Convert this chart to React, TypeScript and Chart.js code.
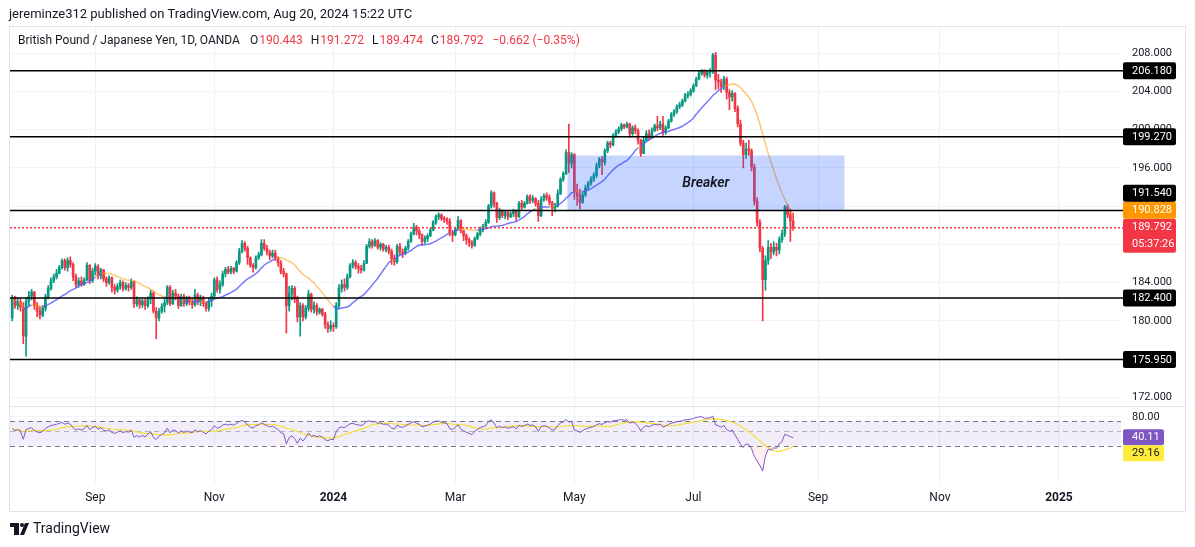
import React, { useEffect, useRef } from "react";
import { Chart, registerables } from "chart.js";

Chart.register(...registerables);

const FONT = "Roboto, 'Noto Sans', 'DejaVu Sans', sans-serif";

// GBP/JPY daily bars, Jul 21 2023 -> Aug 20 2024 (index 0..282)
const firstOpen = 180.3;
const lastOpen = 190.443;
const closes = [
  182.4, 181.6, 182.0, 181.4, 178.4, 182.0, 182.6, 183.0, 181.6, 181.0,
  180.6, 181.3, 182.5, 183.4, 184.2, 184.6, 185.0, 185.6, 186.3, 185.6,
  186.3, 185.9, 184.6, 183.8, 184.2, 183.8, 184.3, 185.8, 184.2, 185.2,
  185.7, 184.7, 185.3, 184.4, 184.0, 184.5, 183.5, 183.2, 183.6, 184.0,
  183.4, 183.7, 183.5, 184.1, 181.8, 182.2, 181.7, 182.1, 181.6, 182.3,
  182.9, 181.0, 180.3, 181.0, 181.5, 181.9, 183.5, 181.8, 182.9, 182.6,
  181.6, 182.5, 181.8, 182.4, 182.0, 181.7, 182.7, 182.0, 182.4, 181.8,
  181.3, 182.1, 182.6, 184.3, 183.3, 183.8, 184.9, 185.4, 185.1, 185.5,
  185.2, 186.1, 187.3, 188.1, 187.6, 186.6, 185.8, 185.6, 186.6, 186.9,
  188.1, 187.6, 187.2, 186.8, 187.1, 186.6, 186.1, 185.2, 184.9, 181.6,
  182.9, 183.4, 182.3, 180.4, 181.6, 180.4, 181.3, 182.8, 181.2, 181.6,
  180.9, 181.2, 180.7, 179.6, 179.2, 179.5, 179.4, 181.6, 183.4, 183.8,
  183.5, 184.6, 185.8, 186.1, 185.7, 185.5, 185.3, 186.0, 187.8, 188.3,
  187.9, 188.4, 187.7, 188.0, 187.5, 187.7, 187.3, 186.5, 186.2, 187.8,
  187.2, 187.1, 187.6, 188.3, 189.1, 189.8, 189.4, 189.0, 188.3, 188.6,
  188.9, 189.5, 190.3, 190.9, 191.1, 190.7, 190.6, 190.4, 189.2, 189.0,
  189.6, 190.5, 189.4, 188.9, 188.5, 188.2, 187.9, 188.6, 189.1, 189.6,
  189.9, 190.3, 192.0, 193.4, 192.3, 190.8, 191.5, 191.0, 191.4, 190.9,
  191.2, 191.5, 190.9, 192.3, 191.9, 192.3, 193.0, 192.6, 192.8, 192.3,
  191.0, 192.7, 193.1, 192.9, 192.4, 191.8, 192.0, 193.3, 194.8, 195.4,
  197.6, 196.5, 197.4, 193.5, 193.1, 192.4, 193.2, 193.9, 194.4, 194.8,
  195.2, 196.2, 196.9, 196.6, 197.8, 198.6, 198.4, 199.4, 199.8, 200.1,
  200.5, 200.3, 200.6, 199.6, 200.2, 199.9, 198.9, 197.5, 198.9, 199.6,
  199.2, 199.9, 200.4, 200.2, 200.6, 199.7, 200.2, 200.9, 201.6, 201.9,
  202.4, 202.6, 203.0, 203.6, 203.7, 204.1, 204.6, 205.3, 205.9, 206.1,
  205.7, 206.0, 206.1, 207.8, 205.2, 205.0, 204.5, 205.3, 203.9, 203.4,
  203.8, 202.2, 200.6, 198.6, 197.4, 198.0, 197.8, 196.1, 192.5, 190.3,
  187.6, 184.3, 186.3, 187.7, 187.2, 187.7, 187.4, 188.5, 189.1, 191.9,
  191.1, 190.454, 189.792,
];
const highs = [
  182.7, 182.6, 182.4, 182.3, 181.9, 182.4, 183.1, 183.3, 183.1, 181.9,
  181.5, 181.6, 182.8, 183.7, 184.5, 184.9, 185.4, 185.8, 186.5, 186.5,
  186.6, 186.7, 186.1, 184.9, 184.5, 184.6, 184.5, 186.1, 185.9, 185.5,
  186.0, 185.9, 185.5, 185.4, 184.6, 184.7, 184.6, 183.8, 183.9, 184.3,
  184.2, 184.0, 183.9, 184.4, 184.2, 182.5, 182.3, 182.3, 182.3, 182.5,
  183.2, 183.1, 181.4, 181.3, 181.8, 182.3, 183.7, 183.7, 183.2, 183.3,
  182.8, 182.8, 182.8, 182.6, 182.6, 182.3, 183.3, 182.9, 182.7, 182.6,
  182.0, 182.4, 182.9, 184.5, 184.6, 184.2, 185.2, 185.6, 185.7, 185.7,
  185.6, 186.3, 187.6, 188.4, 188.3, 187.8, 186.7, 186.0, 186.8, 187.2,
  188.5, 188.5, 187.9, 187.4, 187.4, 187.4, 186.7, 186.3, 185.5, 185.0,
  183.6, 183.7, 183.6, 182.6, 181.9, 181.8, 181.6, 183.2, 182.9, 182.0,
  181.8, 181.4, 181.3, 180.9, 179.9, 180.0, 179.8, 181.9, 183.8, 184.3,
  184.4, 184.9, 186.0, 186.4, 186.3, 186.0, 185.8, 186.3, 188.0, 188.6,
  188.5, 188.6, 188.5, 188.2, 188.1, 187.9, 187.9, 187.5, 186.9, 188.0,
  188.1, 187.5, 187.8, 188.5, 189.3, 190.2, 190.0, 189.6, 189.1, 188.9,
  189.1, 189.7, 190.5, 191.1, 191.3, 191.2, 190.9, 190.8, 190.7, 189.5,
  189.8, 190.9, 190.6, 189.5, 189.1, 188.7, 188.4, 188.8, 189.3, 189.8,
  190.1, 190.6, 192.2, 193.6, 193.5, 192.4, 191.8, 191.6, 191.6, 191.5,
  191.4, 191.7, 191.6, 192.5, 192.6, 192.5, 193.2, 193.2, 193.1, 192.9,
  192.6, 193.0, 193.3, 193.4, 193.2, 192.5, 192.3, 193.7, 195.0, 195.6,
  197.9, 200.6, 197.6, 197.5, 194.3, 193.8, 193.5, 194.2, 194.6, 195.1,
  195.5, 196.5, 197.1, 197.2, 198.0, 198.8, 198.8, 199.6, 200.0, 200.3,
  200.7, 200.6, 200.8, 200.7, 200.4, 200.5, 200.1, 199.0, 199.2, 199.9,
  200.0, 200.2, 200.6, 201.4, 200.9, 201.4, 200.4, 201.1, 201.8, 202.1,
  202.6, 202.9, 203.2, 203.8, 204.0, 204.3, 204.8, 205.5, 206.1, 206.3,
  206.3, 206.2, 206.4, 208.0, 208.1, 205.8, 205.3, 205.6, 205.5, 204.2,
  204.1, 203.9, 202.5, 201.0, 198.9, 198.6, 198.9, 198.0, 196.4, 192.9,
  190.6, 187.8, 186.8, 188.4, 188.1, 188.3, 188.1, 188.8, 189.5, 192.1,
  192.2, 191.7, 191.272,
];
const lows = [
  180.0, 181.3, 181.2, 181.0, 177.6, 176.3, 181.6, 182.2, 181.2, 180.4,
  180.2, 180.4, 181.0, 182.3, 183.2, 184.0, 184.4, 184.9, 185.4, 185.3,
  185.2, 185.6, 184.2, 183.5, 183.5, 183.6, 183.7, 184.2, 183.9, 184.0,
  184.8, 184.4, 184.4, 184.1, 183.6, 183.8, 183.0, 182.8, 183.0, 183.3,
  183.1, 183.2, 183.1, 183.3, 181.4, 181.5, 181.3, 181.4, 181.2, 181.4,
  181.8, 180.8, 178.1, 180.0, 180.8, 180.9, 181.7, 181.6, 181.7, 182.2,
  181.3, 181.5, 181.5, 181.6, 181.7, 181.3, 181.5, 181.7, 181.6, 181.5,
  181.0, 181.0, 181.5, 182.4, 183.0, 182.9, 183.6, 184.6, 184.9, 184.9,
  184.9, 185.1, 185.9, 187.1, 187.3, 185.9, 185.6, 185.1, 185.4, 186.4,
  186.8, 187.4, 186.9, 186.4, 186.6, 186.3, 185.7, 184.9, 184.6, 178.7,
  181.0, 182.2, 181.9, 179.9, 178.4, 180.0, 180.2, 181.0, 180.9, 180.8,
  180.6, 180.7, 180.5, 179.2, 178.8, 178.9, 178.9, 179.2, 181.3, 183.0,
  183.1, 183.3, 184.5, 185.5, 185.4, 185.0, 185.0, 185.2, 186.0, 187.6,
  187.6, 187.8, 187.5, 187.4, 187.3, 187.2, 187.0, 185.9, 185.8, 186.0,
  186.9, 186.6, 186.9, 187.4, 188.2, 189.0, 189.0, 188.6, 187.9, 188.1,
  188.3, 188.8, 189.4, 190.1, 190.6, 190.5, 190.3, 190.1, 188.9, 188.3,
  188.9, 189.5, 189.2, 188.4, 188.0, 187.8, 187.6, 187.8, 188.5, 188.9,
  189.3, 189.7, 190.2, 191.8, 191.9, 190.3, 190.6, 190.8, 190.7, 190.6,
  190.8, 190.9, 190.5, 190.8, 191.6, 191.8, 192.2, 192.3, 192.4, 192.0,
  190.4, 190.9, 192.5, 192.6, 192.1, 191.0, 191.4, 191.9, 193.2, 194.6,
  195.3, 195.5, 196.0, 192.7, 192.1, 191.7, 192.3, 193.0, 193.7, 194.2,
  194.6, 195.0, 196.0, 195.3, 196.3, 197.6, 198.1, 198.3, 199.2, 199.6,
  199.9, 200.1, 200.2, 199.2, 199.4, 199.6, 198.5, 197.2, 197.5, 198.8,
  198.9, 199.1, 199.8, 199.9, 200.0, 199.4, 199.5, 200.1, 200.8, 201.4,
  201.7, 202.2, 202.4, 202.9, 203.3, 203.5, 203.9, 204.5, 205.2, 205.7,
  205.5, 205.4, 205.5, 205.9, 204.2, 204.3, 203.9, 204.2, 203.2, 202.1,
  203.0, 201.9, 200.3, 198.3, 196.0, 197.0, 197.3, 195.7, 192.1, 189.9,
  187.2, 180.0, 183.2, 185.9, 186.5, 186.9, 186.8, 187.0, 188.2, 188.8,
  190.8, 188.3, 189.474,
];

// drawings & labels
const levels = [206.18, 199.27, 191.54, 182.4, 175.95];
const breakerPrices = [191.54, 197.3];
const breakerBars = [200.5, 300.5];
const maPeriod = 20;
const rsiPeriod = 14;
const rsiMaPeriod = 14;
const rsiSeed = [0.42, 0.36]; // average gain / loss carried in from before the visible range
const rsiBands = [70, 50, 30];
const rsiTicks = [80];
const maLastLabel = 190.828;
const rsiLastLabels = [40.11, 29.16];
const countdown = "05:37:26";
const xTickBars = [30, 73, 116, 160, 203, 246, 291, 335, 378];
const xTickLabels = ["Sep", "Nov", "2024", "Mar", "May", "Jul", "Sep", "Nov", "2025"];
const xRange = [-0.8, 400.4];
const priceRange = [171.12, 210.75];
const rsiRange = [8.47, 116.4];
const headerText = "jereminze312 published on TradingView.com, Aug 20, 2024 15:22 UTC";
const titleText = "British Pound / Japanese Yen, 1D, OANDA";

const UP = "#089981";
const DOWN = "#F23645";
const MA_UP = "rgba(88, 88, 250, 0.8)";
const MA_DOWN = "rgba(255, 152, 0, 0.55)";
const RSI_COLOR = "#7E57C2";
const RSI_MA_COLOR = "#F5DF3A";
const TEXT = "#131722";

const N = closes.length;
const opens = closes.map((c, i) => (i === 0 ? firstOpen : i === N - 1 ? lastOpen : closes[i - 1]));

function sma(arr: number[], p: number) {
  return arr.map((_, i) => {
    const s = Math.max(0, i - p + 1);
    let sum = 0;
    for (let k = s; k <= i; k++) sum += arr[k];
    return sum / (i - s + 1);
  });
}
const ma = sma(closes, maPeriod);

const rsi: number[] = [];
{
  let ag = rsiSeed[0];
  let al = rsiSeed[1];
  rsi.push(100 - 100 / (1 + ag / al));
  for (let i = 1; i < N; i++) {
    const d = closes[i] - closes[i - 1];
    const g = Math.max(d, 0);
    const l = Math.max(-d, 0);
    ag = (ag * (rsiPeriod - 1) + g) / rsiPeriod;
    al = (al * (rsiPeriod - 1) + l) / rsiPeriod;
    const v = al === 0 ? 99 : 100 - 100 / (1 + ag / al);
    rsi.push(Math.max(2, v));
  }
}
const rsiMa = sma(rsi, rsiMaPeriod);

function fmtSigned(v: number, d: number) {
  return (v < 0 ? "\u2212" : "+") + Math.abs(v).toFixed(d);
}

const overlay = {
  id: "overlay",
  beforeDatasetsDraw(chart: any) {
    const { ctx, chartArea: ca } = chart;
    const yR = chart.scales.yR;
    const [b70, b50, b30] = rsiBands.map((v) => yR.getPixelForValue(v));
    ctx.save();
    ctx.fillStyle = "rgba(126, 87, 194, 0.1)";
    ctx.fillRect(ca.left, b70, ca.right - ca.left, b30 - b70);
    ctx.lineWidth = 1;
    ctx.setLineDash([5, 4]);
    const hl = (y: number, c: string) => {
      ctx.strokeStyle = c;
      ctx.beginPath();
      ctx.moveTo(ca.left, Math.round(y) + 0.5);
      ctx.lineTo(ca.right, Math.round(y) + 0.5);
      ctx.stroke();
    };
    hl(b70, "#787B86");
    hl(b30, "#787B86");
    hl(b50, "rgba(120,123,134,0.5)");
    ctx.restore();
  },
  afterDatasetsDraw(chart: any) {
    const { ctx, chartArea: ca } = chart;
    const xs = chart.scales.x;
    const ys = chart.scales.y;
    ctx.save();
    // breaker rectangle
    const bx0 = xs.getPixelForValue(breakerBars[0]);
    const bx1 = xs.getPixelForValue(breakerBars[1]);
    const by0 = ys.getPixelForValue(breakerPrices[1]);
    const by1 = ys.getPixelForValue(breakerPrices[0]);
    ctx.fillStyle = "rgba(41, 98, 255, 0.27)";
    ctx.fillRect(bx0, by0, bx1 - bx0, by1 - by0);
    ctx.font = `italic 600 14px ${FONT}`;
    ctx.fillStyle = TEXT;
    ctx.textAlign = "center";
    ctx.textBaseline = "middle";
    ctx.fillText("Breaker", (bx0 + bx1) / 2, (by0 + by1) / 2);
    // level lines
    ctx.strokeStyle = "#000";
    ctx.lineWidth = 1.5;
    for (const lv of levels) {
      const y = ys.getPixelForValue(lv);
      ctx.beginPath();
      ctx.moveTo(ca.left, y);
      ctx.lineTo(ca.right + 2, y);
      ctx.stroke();
    }
    // last price dotted line (red dots)
    const yl = Math.round(ys.getPixelForValue(closes[N - 1]));
    ctx.fillStyle = DOWN;
    for (let px = Math.round(ca.left); px < ca.right + 2; px += 4) {
      ctx.fillRect(px, yl, 2, 1.5);
    }
    ctx.restore();
  },
  afterDraw(chart: any) {
    const { ctx, chartArea: ca } = chart;
    const ys = chart.scales.y;
    const yR = chart.scales.yR;
    ctx.save();
    // frame and pane separator
    ctx.strokeStyle = "#E0E3EB";
    ctx.lineWidth = 1;
    ctx.strokeRect(9.5, 26.5, 1176, 485);
    const sepY = Math.round(yR.top) + 0.5;
    ctx.beginPath();
    ctx.moveTo(10, sepY);
    ctx.lineTo(1185, sepY);
    ctx.stroke();

    // header
    ctx.textBaseline = "middle";
    ctx.textAlign = "left";
    ctx.fillStyle = TEXT;
    ctx.font = `13px ${FONT}`;
    ctx.fillText(headerText, 9, 15);

    // legend row
    ctx.font = `12px ${FONT}`;
    let x = 18;
    const ly = 41;
    ctx.fillStyle = TEXT;
    ctx.fillText(titleText, x, ly);
    x += ctx.measureText(titleText).width + 10;
    const items: [string, number][] = [
      ["O", opens[N - 1]],
      ["H", highs[N - 1]],
      ["L", lows[N - 1]],
      ["C", closes[N - 1]],
    ];
    for (const [k, v] of items) {
      ctx.fillStyle = TEXT;
      ctx.fillText(k, x, ly);
      x += ctx.measureText(k).width + 1;
      const t = v.toFixed(3);
      ctx.fillStyle = DOWN;
      ctx.fillText(t, x, ly);
      x += ctx.measureText(t).width + 8;
    }
    const chg = closes[N - 1] - closes[N - 2];
    const pct = (chg / closes[N - 2]) * 100;
    ctx.fillStyle = DOWN;
    ctx.fillText(`${fmtSigned(chg, 3)} (${fmtSigned(pct, 2)}%)`, x + 1, ly);

    // right-axis labels with collision handling
    const boxL = ca.right + 2;
    const boxW = 53;
    const textX = ca.right + 11;
    type Lab = { top: number; h: number; bg: string; fg: string; lines: string[] };
    const labs: Lab[] = [];
    const h = 17;
    for (const lv of levels) {
      const y = ys.getPixelForValue(lv);
      labs.push({ top: y - h / 2, h, bg: "#000", fg: "#fff", lines: [lv.toFixed(3)] });
    }
    {
      const y = ys.getPixelForValue(maLastLabel);
      labs.push({ top: y - h / 2, h, bg: "#FF9800", fg: "#fff", lines: [maLastLabel.toFixed(3)] });
    }
    {
      const y = ys.getPixelForValue(closes[N - 1]);
      labs.push({ top: y - h / 2, h: 34, bg: DOWN, fg: "#fff", lines: [closes[N - 1].toFixed(3), countdown] });
    }
    labs.sort((a, b) => b.top - a.top);
    let limit = Infinity;
    for (const l of labs) {
      if (l.top + l.h > limit) l.top = limit - l.h;
      limit = l.top;
    }
    ctx.font = `11px ${FONT}`;
    for (const l of labs) {
      ctx.fillStyle = l.bg;
      ctx.beginPath();
      ctx.roundRect(boxL, l.top, boxW, l.h, 2);
      ctx.fill();
      ctx.fillStyle = l.fg;
      l.lines.forEach((t, i) => ctx.fillText(t, textX, l.top + 8.8 + i * 16.5));
    }

    // RSI labels
    const rh = 16;
    const r1 = yR.getPixelForValue(rsiLastLabels[0]);
    const r1top = r1 - rh / 2;
    const r2 = yR.getPixelForValue(rsiLastLabels[1]);
    const r2top = Math.max(r2 - rh / 2, r1top + rh);
    ctx.fillStyle = RSI_COLOR;
    ctx.beginPath();
    ctx.roundRect(boxL, r1top, 41, rh, 2);
    ctx.fill();
    ctx.fillStyle = "#fff";
    ctx.fillText(rsiLastLabels[0].toFixed(2), textX, r1top + rh / 2 + 0.5);
    ctx.fillStyle = "#FFEB3B";
    ctx.beginPath();
    ctx.roundRect(boxL, r2top, 41, rh, 2);
    ctx.fill();
    ctx.fillStyle = TEXT;
    ctx.fillText(rsiLastLabels[1].toFixed(2), textX, r2top + rh / 2 + 0.5);

    // TradingView logo
    ctx.fillStyle = TEXT;
    ctx.fillRect(10, 523, 9, 4);
    ctx.fillRect(14, 523, 5, 12);
    ctx.beginPath();
    ctx.arc(22, 525, 2, 0, Math.PI * 2);
    ctx.fill();
    ctx.beginPath();
    ctx.moveTo(25, 523);
    ctx.lineTo(29, 523);
    ctx.lineTo(24, 535);
    ctx.lineTo(20, 535);
    ctx.closePath();
    ctx.fill();
    ctx.font = `14px ${FONT}`;
    ctx.fillText("TradingView", 33, 529.5);
    ctx.restore();
  },
};

export default function App() {
  const ref = useRef<HTMLCanvasElement | null>(null);
  useEffect(() => {
    if (!ref.current) return;
    const colors = closes.map((c, i) => (c >= opens[i] ? UP : DOWN));
    const wicks = closes.map((c, i) => ({
      x: i,
      y: [Math.min(lows[i], opens[i], c), Math.max(highs[i], opens[i], c)],
    }));
    const bodies = closes.map((c, i) => {
      let lo = Math.min(opens[i], c);
      let hi = Math.max(opens[i], c);
      if (hi - lo < 0.06) {
        const m = (hi + lo) / 2;
        lo = m - 0.03;
        hi = m + 0.03;
      }
      return { x: i, y: [lo, hi] };
    });
    const chart = new Chart(ref.current, {
      type: "bar",
      data: {
        datasets: [
          {
            type: "line",
            data: ma.map((v, i) => ({ x: i, y: v })),
            borderWidth: 1.5,
            pointRadius: 0,
            segment: {
              borderColor: (c: any) => (closes[c.p1DataIndex] >= ma[c.p1DataIndex] ? MA_UP : MA_DOWN),
            },
            borderColor: MA_UP,
            yAxisID: "y",
            order: 0,
          } as any,
          {
            type: "bar",
            data: bodies as any,
            backgroundColor: colors,
            barThickness: 2,
            grouped: false,
            yAxisID: "y",
            order: 1,
          },
          {
            type: "bar",
            data: wicks as any,
            backgroundColor: colors,
            barThickness: 1,
            grouped: false,
            yAxisID: "y",
            order: 2,
          },
          {
            type: "line",
            data: rsi.map((v, i) => ({ x: i, y: v })),
            borderColor: RSI_COLOR,
            borderWidth: 1,
            pointRadius: 0,
            yAxisID: "yR",
            fill: { target: { value: 30 }, above: "rgba(0,0,0,0)", below: "rgba(242, 54, 69, 0.08)" },
            order: 0,
          } as any,
          {
            type: "line",
            data: rsiMa.map((v, i) => ({ x: i, y: v })),
            borderColor: RSI_MA_COLOR,
            borderWidth: 1.2,
            pointRadius: 0,
            yAxisID: "yR",
            order: 0,
          } as any,
        ],
      },
      options: {
        responsive: false,
        devicePixelRatio: 1,
        animation: false,
        events: [],
        layout: { padding: { left: 10, top: 27, right: 10, bottom: 36 } },
        plugins: { legend: { display: false }, tooltip: { enabled: false } },
        scales: {
          x: {
            type: "linear",
            min: xRange[0],
            max: xRange[1],
            offset: false,
            afterBuildTicks: (s: any) => {
              s.ticks = xTickBars.map((v) => ({ value: v }));
            },
            afterFit: (s: any) => {
              s.height = 28;
            },
            ticks: {
              autoSkip: false,
              maxRotation: 0,
              padding: 8,
              color: TEXT,
              callback: (_v: any, i: number) => xTickLabels[i],
              font: (c: any) => ({
                family: FONT,
                size: 12,
                weight: /^\d{4}$/.test(xTickLabels[c.index] || "") ? "bold" : "normal",
              }),
            },
            grid: { color: "#EEF0F5", drawTicks: false, offset: false },
            border: { display: false },
          },
          y: {
            type: "linear",
            position: "right",
            stack: "panes",
            stackWeight: 378.7,
            min: priceRange[0],
            max: priceRange[1],
            afterFit: (s: any) => {
              s.width = 64;
            },
            ticks: {
              stepSize: 4,
              includeBounds: false,
              padding: 11,
              color: TEXT,
              font: { family: FONT, size: 11 },
              callback: (v: any) => Number(v).toFixed(3),
            },
            grid: { color: "#F0F3FA", drawTicks: false },
            border: { display: false },
          },
          yR: {
            type: "logarithmic",
            position: "right",
            stack: "panes",
            stackWeight: 77.3,
            min: rsiRange[0],
            max: rsiRange[1],
            afterBuildTicks: (s: any) => {
              s.ticks = rsiTicks.map((v) => ({ value: v }));
            },
            afterFit: (s: any) => {
              s.width = 64;
            },
            ticks: {
              padding: 11,
              color: TEXT,
              font: { family: FONT, size: 11 },
              callback: (v: any) => Number(v).toFixed(2),
            },
            grid: { color: "#F0F3FA", drawTicks: false },
            border: { display: false },
          },
        } as any,
      },
      plugins: [overlay],
    });
    return () => chart.destroy();
  }, []);
  return (
    <div style={{ position: "absolute", left: 0, top: 0, width: 1195, height: 547, background: "#fff" }}>
      <canvas ref={ref} width={1195} height={547} style={{ display: "block" }} />
    </div>
  );
}
